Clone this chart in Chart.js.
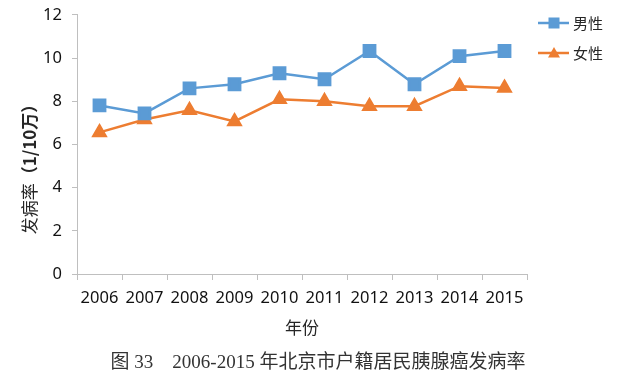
<!DOCTYPE html>
<html><head><meta charset="utf-8">
<script src="https://cdn.jsdelivr.net/npm/chart.js@4"></script>
<style>html,body{margin:0;padding:0;background:#fff}#wrap{width:640px;height:386px;position:relative}</style>
</head><body><div id="wrap"><canvas id="c" width="640" height="386"></canvas></div>
<script>
const categories = ['2006','2007','2008','2009','2010','2011','2012','2013','2014','2015'];
const maleValues = [7.81, 7.44, 8.6, 8.79, 9.3, 9.02, 10.33, 8.79, 10.09, 10.33];
const femaleValues = [6.56, 7.16, 7.58, 7.07, 8.09, 8.0, 7.77, 7.77, 8.7, 8.62];
const yTicks = [0, 2, 4, 6, 8, 10, 12];
const seriesNames = ['男性', '女性'];
const yTitleParts = ['发病率', '（1/10万）'];
const captionText = '图 33　2006-2015 年北京市户籍居民胰腺癌发病率';

const BLUE = '#5B9BD5', ORANGE = '#ED7D31', AXIS = '#BFBFBF';
const sansFont = '"Noto Sans", "Noto Sans CJK SC", sans-serif';

const textPlugin = {
  id: 'customText',
  afterDraw(chart) {
    const ctx = chart.ctx;
    ctx.save();
    chart.data.datasets.forEach((ds, i) => {
      const y = 23 + i * 30;
      const x0 = 538, x1 = 569;
      ctx.strokeStyle = ds.borderColor;
      ctx.lineWidth = 2.5;
      ctx.beginPath(); ctx.moveTo(x0, y); ctx.lineTo(x1, y); ctx.stroke();
      ctx.fillStyle = ds.backgroundColor;
      if (ds.pointStyle === 'rect') {
        ctx.fillRect(548.5, y - 5.5, 11, 11);
      } else {
        ctx.beginPath(); ctx.moveTo(554, y - 6); ctx.lineTo(560, y + 4.5); ctx.lineTo(548, y + 4.5); ctx.closePath(); ctx.fill();
      }
      ctx.fillStyle = '#262626';
      ctx.font = '15px "Noto Sans CJK SC", sans-serif';
      ctx.textBaseline = 'middle';
      ctx.textAlign = 'left';
      ctx.fillText(ds.label, 573, y + 0.5);
    });
    ctx.save();
    ctx.translate(30, 165);
    ctx.rotate(-Math.PI / 2);
    ctx.fillStyle = '#262626';
    ctx.textBaseline = 'middle';
    const f1 = '17px "Noto Sans CJK SC", sans-serif';
    const f2 = 'bold 17px "Noto Sans CJK SC", sans-serif';
    ctx.font = f1;
    const w1 = ctx.measureText(yTitleParts[0]).width;
    ctx.font = f2;
    const w2 = ctx.measureText(yTitleParts[1]).width;
    let x = -(w1 + w2) / 2;
    ctx.font = f1;
    ctx.textAlign = 'left';
    ctx.fillText(yTitleParts[0], x, 0);
    ctx.font = f2;
    ctx.fillText(yTitleParts[1], x + w1, 0);
    ctx.restore();
    ctx.fillStyle = '#333';
    ctx.font = '19px "Liberation Serif", "Noto Sans CJK SC", serif';
    ctx.textAlign = 'center';
    ctx.textBaseline = 'middle';
    ctx.fillText(captionText, 318, 363);
    ctx.restore();
  }
};

new Chart(document.getElementById('c'), {
  type: 'line',
  data: {
    labels: categories,
    datasets: [
      { label: seriesNames[0], data: maleValues, borderColor: BLUE, backgroundColor: BLUE, borderWidth: 2.5,
        pointStyle: 'rect', pointRadius: 8, pointHoverRadius: 8, tension: 0 },
      { label: seriesNames[1], data: femaleValues, borderColor: ORANGE, backgroundColor: ORANGE, borderWidth: 2.5,
        pointStyle: 'triangle', pointRadius: 7, pointHoverRadius: 7, tension: 0 }
    ]
  },
  options: {
    responsive: false,
    animation: false,
    layout: { padding: { top: 0, right: 113, left: 0, bottom: 48 } },
    plugins: {
      legend: { display: false },
      tooltip: { enabled: false },
      title: { display: false }
    },
    scales: {
      x: {
        type: 'category', offset: true,
        grid: { display: true, drawOnChartArea: false, drawTicks: true, tickLength: 6, color: AXIS, offset: true },
        border: { color: AXIS, width: 1 },
        ticks: { color: '#111', font: { family: sansFont, size: 16.5 }, padding: 8, maxRotation: 0, autoSkip: false },
        title: { display: true, text: '年份', color: '#262626', font: { family: '"Noto Sans CJK SC", sans-serif', size: 17 }, padding: { top: 1, bottom: 0 } },
        afterFit(s) { s.height = 64; }
      },
      y: {
        min: 0, max: 12,
        afterBuildTicks(s) { s.ticks = yTicks.map(v => ({ value: v })); },
        grid: { display: true, drawOnChartArea: false, drawTicks: true, tickLength: 5, color: AXIS },
        border: { color: AXIS, width: 1 },
        ticks: { color: '#111', font: { family: sansFont, size: 16.5, lineHeight: 0.6 }, padding: 10 },
        title: { display: false },
        afterFit(s) { s.width = 77; }
      }
    }
  },
  plugins: [textPlugin]
});
</script></body></html>
